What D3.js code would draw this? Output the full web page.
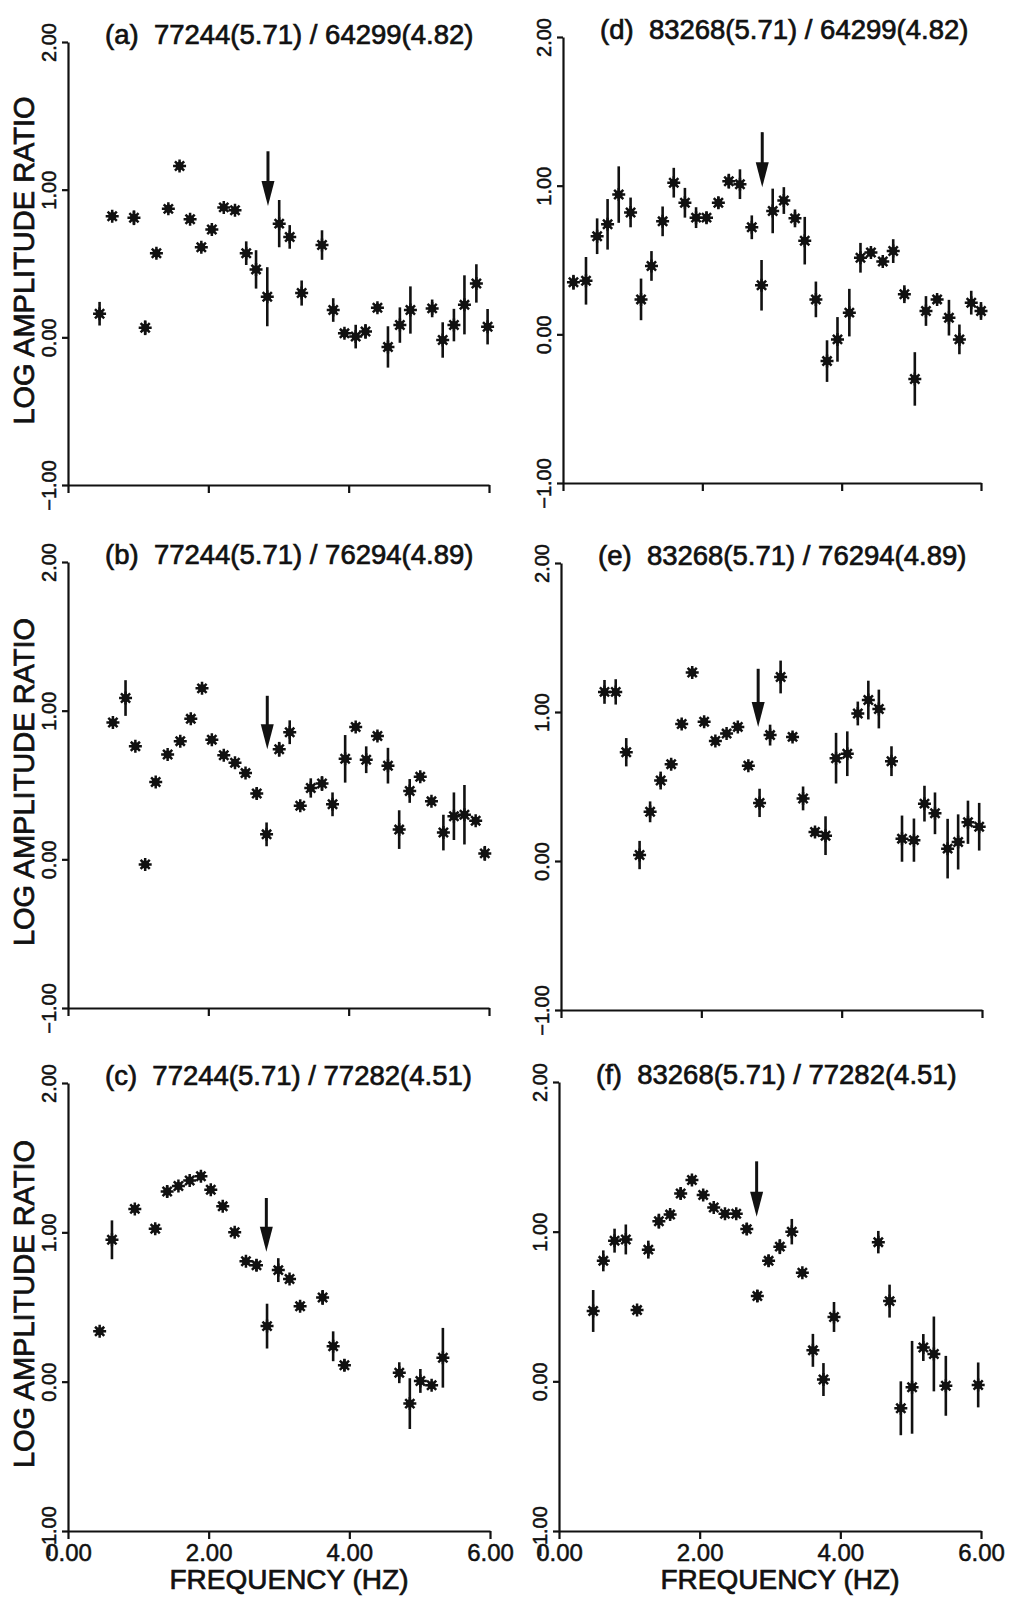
<!DOCTYPE html>
<html>
<head>
<meta charset="utf-8">
<script src="https://cdn.jsdelivr.net/npm/d3@7"></script>
<style>
  html, body { margin: 0; padding: 0; background: #fff; }
  svg { display: block; }
</style>
</head>
<body>
<div id="chart"></div>
<script>
// Tick values shared by all six panels
const xTicks = [0, 2, 4, 6];
const yTicks = [-1, 0, 1, 2];

const titles = [
  "(a)  77244(5.71) / 64299(4.82)",
  "(b)  77244(5.71) / 76294(4.89)",
  "(c)  77244(5.71) / 77282(4.51)",
  "(d)  83268(5.71) / 64299(4.82)",
  "(e)  83268(5.71) / 76294(4.89)",
  "(f)  83268(5.71) / 77282(4.51)"
];

// Panel (a)
const freqA  = [0.45, 0.63, 0.94, 1.10, 1.26, 1.43, 1.59, 1.74, 1.90, 2.05, 2.22, 2.38, 2.54, 2.68, 2.84, 3.01, 3.16, 3.33, 3.62, 3.78, 3.94, 4.10, 4.24, 4.41, 4.56, 4.73, 4.88, 5.19, 5.34, 5.50, 5.65, 5.82, 5.98];
const ratioA = [0.16, 0.82, 0.81, 0.065, 0.57, 0.87, 1.16, 0.80, 0.61, 0.73, 0.88, 0.86, 0.57, 0.46, 0.275, 0.77, 0.68, 0.30, 0.625, 0.185, 0.027, 0.005, 0.04, 0.20, -0.065, 0.083, 0.185, 0.196, -0.018, 0.083, 0.22, 0.365, 0.072];
const errA   = [0.08, 0.03, 0.05, 0.05, 0.03, 0.03, 0.03, 0.02, 0.03, 0.03, 0.02, 0.01, 0.08, 0.13, 0.20, 0.16, 0.08, 0.085, 0.10, 0.08, 0.03, 0.08, 0.05, 0.03, 0.14, 0.12, 0.16, 0.06, 0.12, 0.11, 0.20, 0.13, 0.12];

// Panel (b)
const freqB  = [0.64, 0.82, 0.96, 1.10, 1.25, 1.42, 1.60, 1.75, 1.91, 2.05, 2.22, 2.38, 2.53, 2.69, 2.83, 3.01, 3.16, 3.31, 3.46, 3.62, 3.77, 3.95, 4.10, 4.25, 4.41, 4.56, 4.72, 4.87, 5.02, 5.18, 5.35, 5.50, 5.65, 5.81, 5.94];
const ratioB = [0.92, 1.085, 0.76, -0.034, 0.52, 0.705, 0.795, 0.945, 1.15, 0.805, 0.70, 0.65, 0.58, 0.443, 0.168, 0.74, 0.855, 0.36, 0.48, 0.51, 0.37, 0.676, 0.89, 0.67, 0.83, 0.63, 0.20, 0.46, 0.555, 0.39, 0.18, 0.29, 0.30, 0.26, 0.04];
const errB   = [0.02, 0.12, 0.01, 0.01, 0.01, 0.01, 0.01, 0.01, 0.02, 0.02, 0.02, 0.01, 0.01, 0.04, 0.08, 0.05, 0.08, 0.02, 0.065, 0.05, 0.08, 0.16, 0.02, 0.09, 0.03, 0.12, 0.13, 0.08, 0.03, 0.01, 0.12, 0.16, 0.20, 0.02, 0.05];

// Panel (c)
const freqC  = [0.45, 0.625, 0.95, 1.24, 1.41, 1.57, 1.73, 1.89, 2.03, 2.20, 2.37, 2.53, 2.68, 2.83, 2.99, 3.15, 3.30, 3.62, 3.77, 3.93, 4.71, 4.86, 5.01, 5.17, 5.33];
const ratioC = [0.337, 0.95, 1.157, 1.024, 1.273, 1.31, 1.347, 1.375, 1.285, 1.174, 1.00, 0.806, 0.78, 0.372, 0.747, 0.688, 0.505, 0.564, 0.237, 0.11, 0.06, -0.147, 0.005, -0.024, 0.16];
const errC   = [0.01, 0.13, 0.02, 0.03, 0.04, 0.02, 0.02, 0.03, 0.02, 0.02, 0.01, 0.01, 0.04, 0.15, 0.08, 0.02, 0.03, 0.05, 0.10, 0.04, 0.07, 0.17, 0.08, 0.02, 0.20];

// Panel (d)
const freqD  = [0.15, 0.33, 0.49, 0.64, 0.80, 0.97, 1.12, 1.27, 1.43, 1.59, 1.75, 1.91, 2.06, 2.23, 2.38, 2.54, 2.71, 2.85, 3.01, 3.17, 3.33, 3.47, 3.63, 3.79, 3.94, 4.11, 4.27, 4.42, 4.59, 4.74, 4.90, 5.05, 5.21, 5.37, 5.54, 5.69, 5.86, 6.00];
const ratioD = [0.35, 0.36, 0.66, 0.74, 0.94, 0.82, 0.235, 0.46, 0.76, 1.02, 0.885, 0.785, 0.785, 0.885, 1.03, 1.01, 0.72, 0.33, 0.83, 0.90, 0.78, 0.63, 0.235, -0.18, -0.034, 0.146, 0.515, 0.55, 0.49, 0.56, 0.27, -0.30, 0.157, 0.235, 0.112, -0.034, 0.213, 0.157];
const errD   = [0.05, 0.16, 0.12, 0.17, 0.19, 0.10, 0.14, 0.10, 0.10, 0.10, 0.10, 0.07, 0.04, 0.04, 0.05, 0.10, 0.08, 0.17, 0.15, 0.09, 0.06, 0.16, 0.12, 0.14, 0.15, 0.16, 0.10, 0.03, 0.03, 0.08, 0.06, 0.18, 0.10, 0.03, 0.12, 0.10, 0.08, 0.06];

// Panel (e)
const freqE  = [0.62, 0.78, 0.93, 1.12, 1.27, 1.42, 1.57, 1.72, 1.87, 2.04, 2.20, 2.36, 2.52, 2.67, 2.83, 2.98, 3.13, 3.30, 3.45, 3.62, 3.77, 3.92, 4.08, 4.23, 4.38, 4.53, 4.71, 4.86, 5.03, 5.18, 5.33, 5.51, 5.66, 5.80, 5.96];
const ratioE = [1.135, 1.135, 0.73, 0.04, 0.33, 0.54, 0.65, 0.92, 1.265, 0.935, 0.805, 0.855, 0.90, 0.64, 0.39, 0.845, 1.235, 0.833, 0.42, 0.195, 0.17, 0.69, 0.72, 0.99, 1.08, 1.02, 0.67, 0.15, 0.14, 0.385, 0.32, 0.083, 0.128, 0.26, 0.23];
const errE   = [0.08, 0.085, 0.095, 0.095, 0.07, 0.06, 0.03, 0.03, 0.03, 0.03, 0.02, 0.02, 0.02, 0.02, 0.095, 0.07, 0.11, 0.03, 0.08, 0.03, 0.13, 0.17, 0.15, 0.08, 0.13, 0.13, 0.10, 0.155, 0.145, 0.12, 0.14, 0.20, 0.185, 0.145, 0.16];

// Panel (f)
const freqF  = [0.486, 0.63, 0.79, 0.95, 1.11, 1.27, 1.42, 1.58, 1.73, 1.89, 2.05, 2.20, 2.36, 2.52, 2.67, 2.82, 2.98, 3.14, 3.31, 3.46, 3.61, 3.76, 3.91, 4.54, 4.70, 4.86, 5.02, 5.18, 5.33, 5.50, 5.96];
const ratioF = [0.47, 0.805, 0.94, 0.948, 0.476, 0.88, 1.07, 1.114, 1.255, 1.345, 1.245, 1.162, 1.12, 1.12, 1.017, 0.57, 0.805, 0.90, 1.00, 0.726, 0.207, 0.012, 0.43, 0.93, 0.536, -0.18, -0.04, 0.226, 0.183, -0.03, -0.024];
const errF   = [0.14, 0.07, 0.08, 0.10, 0.02, 0.06, 0.05, 0.03, 0.04, 0.03, 0.03, 0.02, 0.02, 0.02, 0.04, 0.04, 0.04, 0.05, 0.085, 0.02, 0.11, 0.11, 0.10, 0.075, 0.11, 0.18, 0.31, 0.09, 0.25, 0.20, 0.15];

// Arrows: [frequency, top of shaft, tip]
const arrows = [
  [2.85, 1.26, 0.89],
  [2.84, 1.10, 0.74],
  [2.82, 1.23, 0.87],
  [2.86, 1.36, 0.99],
  [2.81, 1.29, 0.90],
  [2.81, 1.47, 1.10]
];

const W = 1013, H = 1599;
const FONT = "'Liberation Sans', Arial, Helvetica, sans-serif";
const INK = "#111";

// pixel frame of each panel (left, right, top of y axis, bottom of y axis)
const panels = [
  { freq: freqA, ratio: ratioA, err: errA, x0: 68,  x1: 489, yTop: 42,   yBot: 485,  left: true,  bottom: false },
  { freq: freqB, ratio: ratioB, err: errB, x0: 68,  x1: 489, yTop: 562,  yBot: 1008, left: true,  bottom: false },
  { freq: freqC, ratio: ratioC, err: errC, x0: 68,  x1: 490, yTop: 1083, yBot: 1531, left: true,  bottom: true },
  { freq: freqD, ratio: ratioD, err: errD, x0: 563, x1: 981, yTop: 37,   yBot: 483,  left: false, bottom: false },
  { freq: freqE, ratio: ratioE, err: errE, x0: 561, x1: 982, yTop: 563,  yBot: 1010, left: false, bottom: false },
  { freq: freqF, ratio: ratioF, err: errF, x0: 559, x1: 981, yTop: 1082, yBot: 1531, left: false, bottom: true }
];

const svg = d3.select("#chart").append("svg")
  .attr("width", W).attr("height", H)
  .style("font-family", FONT);

const star = "M-6.5,0H6.5M0,-6.5V6.5M-4.6,-4.6L4.6,4.6M-4.6,4.6L4.6,-4.6";

panels.forEach((p, i) => {
  const x = d3.scaleLinear([0, 6], [p.x0, p.x1]);
  const y = d3.scaleLinear([-1, 2], [p.yBot, p.yTop]);
  const g = svg.append("g");

  // x axis
  const ax = g.append("g")
    .attr("transform", `translate(0,${p.yBot})`)
    .call(d3.axisBottom(x).tickValues(xTicks).tickSize(8).tickPadding(5).tickSizeOuter(0)
      .tickFormat(p.bottom ? d3.format(".2f") : ""));
  ax.selectAll("text")
    .attr("font-size", 24).attr("fill", INK).attr("font-family", FONT)
    .attr("stroke", INK).attr("stroke-width", 0.5);

  // y axis with rotated labels
  const ay = g.append("g")
    .attr("transform", `translate(${p.x0},0)`)
    .call(d3.axisLeft(y).tickValues(yTicks).tickSize(6).tickSizeOuter(0).tickFormat(d3.format(".2f")));
  ay.selectAll("text")
    .attr("transform", "rotate(-90)")
    .attr("x", 0).attr("y", -12).attr("dy", 0)
    .attr("text-anchor", "middle")
    .attr("font-size", 20).attr("fill", INK).attr("font-family", FONT)
    .attr("stroke", INK).attr("stroke-width", 0.5);

  g.selectAll(".domain, .tick line").attr("stroke", INK).attr("stroke-width", 2.2);

  // title
  g.append("text")
    .attr("x", p.x0 + 37).attr("y", p.yTop + 2)
    .attr("font-size", 27.5).attr("fill", INK)
    .attr("stroke", INK).attr("stroke-width", 0.7)
    .style("white-space", "pre")
    .text(titles[i]);

  if (p.left) {
    g.append("text")
      .attr("transform", `translate(${p.x0 - 34},${(p.yTop + p.yBot) / 2 - 3}) rotate(-90)`)
      .attr("text-anchor", "middle")
      .attr("font-size", 29).attr("fill", INK)
      .attr("stroke", INK).attr("stroke-width", 0.7)
      .text("LOG AMPLITUDE RATIO");
  }
  if (p.bottom) {
    g.append("text")
      .attr("x", x(3) + 10).attr("y", p.yBot + 58)
      .attr("text-anchor", "middle")
      .attr("font-size", 28).attr("fill", INK)
      .attr("stroke", INK).attr("stroke-width", 0.7)
      .text("FREQUENCY (HZ)");
  }

  // data points with error bars
  const data = p.freq.map((f, k) => ({ f, v: p.ratio[k], e: p.err[k] }));
  const pts = g.selectAll("g.pt").data(data).join("g")
    .attr("class", "pt")
    .attr("transform", d => `translate(${x(d.f)},${y(d.v)})`);
  pts.append("line")
    .attr("y1", d => y(d.v + d.e) - y(d.v))
    .attr("y2", d => y(d.v - d.e) - y(d.v))
    .attr("stroke", INK).attr("stroke-width", 2.6);
  pts.append("path").attr("d", star)
    .attr("stroke", INK).attr("stroke-width", 2.5).attr("fill", "none");
  pts.append("circle").attr("r", 4).attr("fill", INK);

  // arrow
  const [af, aTop, aTip] = arrows[i];
  const ax0 = x(af), yTip = y(aTip), head = 25;
  g.append("line")
    .attr("x1", ax0).attr("x2", ax0)
    .attr("y1", y(aTop)).attr("y2", yTip - head + 2)
    .attr("stroke", INK).attr("stroke-width", 3);
  g.append("path")
    .attr("d", `M${ax0 - 6.5},${yTip - head}L${ax0 + 6.5},${yTip - head}L${ax0},${yTip}Z`)
    .attr("fill", INK);
});
</script>
</body>
</html>
